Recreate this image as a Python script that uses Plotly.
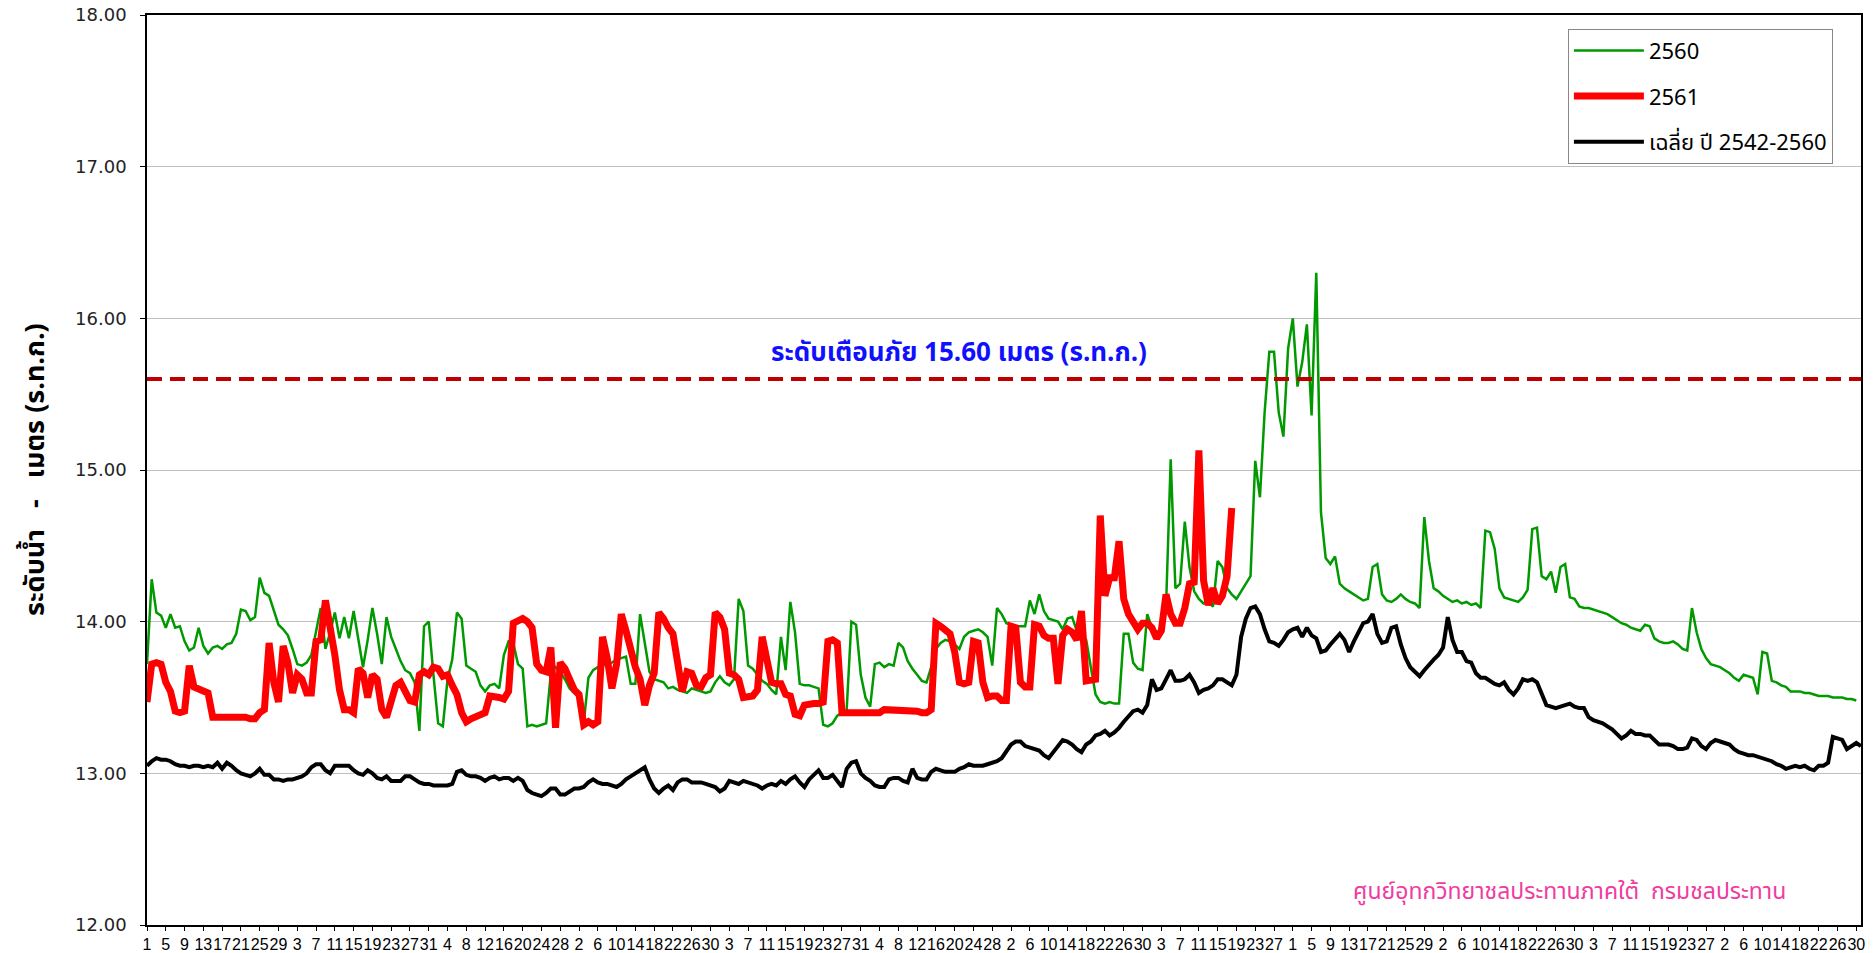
import plotly.graph_objects as go

# ---------------- data ----------------
month_days = [30, 31, 30, 31, 31, 30, 31, 30, 31, 31, 29, 31]  # Apr .. Mar (366-day layout)

level_2560 = [
    13.72, 14.28, 14.06, 14.04, 13.96, 14.05, 13.96, 13.97, 13.87, 13.81,
    13.83, 13.96, 13.84, 13.79, 13.83, 13.84, 13.82, 13.85, 13.86, 13.92,
    14.08, 14.07, 14.01, 14.03, 14.29, 14.19, 14.17, 14.08, 13.98, 13.95,
    13.91, 13.82, 13.72, 13.71, 13.73, 13.78, 13.93, 14.09, 13.82, 13.93,
    14.06, 13.89, 14.03, 13.89, 14.07, 13.88, 13.70, 13.88, 14.09, 13.92,
    13.72, 14.03, 13.90, 13.82, 13.74, 13.68, 13.66, 13.60, 13.28, 13.97,
    14.00, 13.65, 13.33, 13.31, 13.62, 13.75, 14.06, 14.02, 13.71, 13.69,
    13.67, 13.58, 13.54, 13.58, 13.59, 13.56, 13.78, 13.87, 13.86, 13.72,
    13.69, 13.31, 13.32, 13.31, 13.32, 13.33, 13.66, 13.70, 13.67, 13.62,
    13.56, 13.53, 13.50, 13.33, 13.63, 13.68, 13.70, 13.71, 13.72, 13.73,
    13.75, 13.76, 13.77, 13.59, 13.59, 14.05, 13.87, 13.67, 13.62, 13.61,
    13.60, 13.56, 13.57, 13.55, 13.54, 13.53, 13.56, 13.55, 13.54, 13.53,
    13.54, 13.60, 13.64, 13.60, 13.58, 13.62, 14.15, 14.07, 13.71, 13.69,
    13.65, 13.61, 13.59, 13.55, 13.52, 13.90, 13.68, 14.13, 13.93, 13.59,
    13.58, 13.58, 13.57, 13.56, 13.32, 13.31, 13.33, 13.38, 13.40, 13.42,
    14.00, 13.98, 13.65, 13.50, 13.44, 13.72, 13.73, 13.70, 13.72, 13.71,
    13.86, 13.83, 13.74, 13.69, 13.65, 13.61, 13.60, 13.70, 13.82, 13.86,
    13.88, 13.87, 13.85, 13.82, 13.90, 13.93, 13.94, 13.95, 13.93, 13.90,
    13.71, 14.09, 14.05, 13.99, 13.98, 13.97, 13.97, 13.97, 14.14, 14.05,
    14.18, 14.07, 14.02, 14.01, 14.00, 13.95, 14.02, 14.03, 13.94, 13.91,
    13.88, 13.70, 13.52, 13.47, 13.46, 13.47, 13.46, 13.46, 13.92, 13.92,
    13.73, 13.69, 13.68, 14.05, 13.96, 13.93, 13.95, 14.09, 15.07, 14.22,
    14.25, 14.66, 14.36, 14.20, 14.15, 14.12, 14.13, 14.10, 14.40, 14.36,
    14.22, 14.18, 14.15, 14.20, 14.25, 14.30, 15.06, 14.82, 15.38, 15.78,
    15.78, 15.38, 15.22, 15.80, 16.00, 15.55, 15.71, 15.96, 15.36, 16.30,
    14.72, 14.42, 14.38, 14.43, 14.25, 14.22, 14.20, 14.18, 14.16, 14.14,
    14.15, 14.36, 14.38, 14.18, 14.14, 14.13, 14.15, 14.18, 14.15, 14.13,
    14.12, 14.09, 14.69, 14.40, 14.22, 14.20, 14.17, 14.15, 14.13, 14.14,
    14.12, 14.13, 14.11, 14.12, 14.09, 14.60, 14.59, 14.48, 14.22, 14.16,
    14.15, 14.14, 14.13, 14.16, 14.21, 14.61, 14.62, 14.30, 14.28, 14.33,
    14.19, 14.36, 14.38, 14.16, 14.15, 14.10, 14.09, 14.09, 14.08, 14.07,
    14.06, 14.05, 14.03, 14.01, 13.99, 13.98, 13.96, 13.95, 13.94, 13.98,
    13.97, 13.89, 13.87, 13.86, 13.86, 13.87, 13.85, 13.82, 13.81, 14.09,
    13.93, 13.82, 13.76, 13.72, 13.71, 13.70, 13.68, 13.66, 13.63, 13.61,
    13.65, 13.64, 13.63, 13.52, 13.80, 13.79, 13.61, 13.60, 13.58, 13.57,
    13.54, 13.54, 13.54, 13.53, 13.53, 13.52, 13.51, 13.51, 13.51, 13.50,
    13.50, 13.50, 13.49, 13.49, 13.48,
]

level_2561 = [
    13.47, 13.72, 13.73, 13.72, 13.60, 13.54, 13.41, 13.40, 13.41, 13.71,
    13.57, 13.56, 13.55, 13.53, 13.37, 13.37, 13.37, 13.38, 13.38, 13.37,
    13.37, 13.37, 13.36, 13.36, 13.40, 13.42, 13.86, 13.60, 13.47, 13.84,
    13.73, 13.53, 13.65, 13.62, 13.53, 13.53, 13.87, 13.88, 14.14, 13.98,
    13.78, 13.55, 13.42, 13.42, 13.40, 13.69, 13.66, 13.50, 13.65, 13.62,
    13.42, 13.37, 13.47, 13.58, 13.60, 13.55, 13.48, 13.47, 13.65, 13.67,
    13.65, 13.70, 13.69, 13.64, 13.65, 13.58, 13.52, 13.40, 13.34, 13.36,
    13.37, 13.38, 13.40, 13.51, 13.51, 13.50, 13.49, 13.54, 13.99, 14.01,
    14.02, 14.00, 13.96, 13.72, 13.68, 13.67, 13.83, 13.30, 13.73, 13.69,
    13.61, 13.55, 13.52, 13.32, 13.34, 13.32, 13.34, 13.90, 13.76, 13.56,
    13.72, 14.05, 13.94, 13.80, 13.70, 13.62, 13.45, 13.58, 13.66, 14.06,
    14.02, 13.96, 13.92, 13.73, 13.54, 13.67, 13.66, 13.58, 13.57, 13.63,
    13.65, 14.06, 14.03, 13.95, 13.66, 13.65, 13.62, 13.50, 13.50, 13.51,
    13.55, 13.90, 13.75, 13.60, 13.59, 13.59, 13.52, 13.51, 13.39, 13.38,
    13.45, 13.46, 13.46, 13.46, 13.47, 13.87, 13.88, 13.86, 13.40, 13.40,
    13.40, 13.40, 13.40, 13.39, 13.39, 13.39, 13.40, 13.42, 13.42, 13.41,
    13.41, 13.41, 13.41, 13.41, 13.41, 13.40, 13.40, 13.42, 13.99, 13.97,
    13.94, 13.92, 13.80, 13.60, 13.59, 13.60, 13.87, 13.86, 13.60, 13.50,
    13.51, 13.51, 13.48, 13.48, 13.97, 13.96, 13.60, 13.57, 13.57, 13.98,
    13.97, 13.91, 13.89, 13.89, 13.59, 13.91, 13.95, 13.93, 13.88, 14.07,
    13.61, 13.61, 13.62, 14.70, 14.17, 14.29, 14.29, 14.53, 14.15, 14.05,
    14.00, 13.95, 13.99, 13.99, 13.96, 13.89, 13.94, 14.18, 14.05, 13.99,
    13.99, 14.09, 14.25, 14.26, 15.13, 14.27, 14.11, 14.22, 14.12, 14.17,
    14.30, 14.75,
]

level_avg = [
    13.05, 13.08, 13.10, 13.09, 13.09, 13.08, 13.06, 13.05, 13.05, 13.04,
    13.05, 13.05, 13.04, 13.05, 13.04, 13.07, 13.03, 13.07, 13.05, 13.02,
    13.00, 12.99, 12.98, 13.00, 13.03, 12.99, 12.99, 12.96, 12.96, 12.95,
    12.96, 12.96, 12.97, 12.98, 13.00, 13.04, 13.06, 13.06, 13.02, 13.00,
    13.05, 13.05, 13.05, 13.05, 13.02, 13.00, 12.99, 13.02, 13.00, 12.97,
    12.96, 12.98, 12.95, 12.95, 12.95, 12.98, 12.98, 12.96, 12.94, 12.93,
    12.93, 12.92, 12.92, 12.92, 12.92, 12.93, 13.01, 13.02, 12.99, 12.98,
    12.98, 12.97, 12.95, 12.97, 12.98, 12.96, 12.97, 12.97, 12.95, 12.97,
    12.95, 12.89, 12.87, 12.86, 12.85, 12.87, 12.90, 12.90, 12.86, 12.86,
    12.88, 12.90, 12.90, 12.91, 12.94, 12.96, 12.94, 12.93, 12.93, 12.92,
    12.91, 12.93, 12.96, 12.98, 13.00, 13.02, 13.04, 12.96, 12.90, 12.87,
    12.90, 12.92, 12.89, 12.94, 12.96, 12.96, 12.94, 12.94, 12.94, 12.93,
    12.92, 12.91, 12.88, 12.90, 12.95, 12.94, 12.93, 12.95, 12.94, 12.93,
    12.92, 12.90, 12.92, 12.93, 12.92, 12.95, 12.93, 12.96, 12.98, 12.94,
    12.91, 12.96, 12.99, 13.02, 12.97, 12.97, 12.99, 12.95, 12.91, 13.03,
    13.07, 13.08, 13.00, 12.97, 12.95, 12.92, 12.91, 12.91, 12.96, 12.97,
    12.97, 12.95, 12.94, 13.03, 12.97, 12.96, 12.96, 13.01, 13.03, 13.02,
    13.01, 13.01, 13.01, 13.03, 13.04, 13.06, 13.05, 13.05, 13.05, 13.06,
    13.07, 13.08, 13.10, 13.14, 13.19, 13.21, 13.21, 13.18, 13.17, 13.16,
    13.15, 13.12, 13.10, 13.14, 13.18, 13.22, 13.21, 13.19, 13.16, 13.14,
    13.19, 13.21, 13.25, 13.26, 13.28, 13.25, 13.27, 13.30, 13.34, 13.38,
    13.41, 13.42, 13.40, 13.45, 13.62, 13.55, 13.56, 13.62, 13.68, 13.61,
    13.61, 13.62, 13.65, 13.60, 13.53, 13.55, 13.56, 13.58, 13.62, 13.62,
    13.60, 13.58, 13.65, 13.90, 14.02, 14.09, 14.10, 14.05, 13.95, 13.87,
    13.86, 13.84, 13.88, 13.93, 13.95, 13.96, 13.90, 13.96, 13.91, 13.89,
    13.80, 13.81, 13.85, 13.89, 13.92, 13.88, 13.80, 13.87, 13.93, 13.99,
    14.00, 14.05, 13.92, 13.86, 13.87, 13.96, 13.97, 13.85, 13.76, 13.70,
    13.67, 13.64, 13.68, 13.72, 13.75, 13.78, 13.83, 14.03, 13.88, 13.80,
    13.80, 13.74, 13.73, 13.66, 13.63, 13.63, 13.61, 13.59, 13.58, 13.60,
    13.55, 13.52, 13.56, 13.62, 13.61, 13.62, 13.60, 13.52, 13.45, 13.44,
    13.43, 13.44, 13.45, 13.46, 13.44, 13.43, 13.43, 13.37, 13.35, 13.34,
    13.33, 13.31, 13.29, 13.26, 13.23, 13.25, 13.28, 13.26, 13.26, 13.25,
    13.25, 13.22, 13.19, 13.19, 13.19, 13.18, 13.16, 13.16, 13.17, 13.23,
    13.22, 13.18, 13.16, 13.20, 13.22, 13.21, 13.20, 13.19, 13.16, 13.14,
    13.13, 13.12, 13.12, 13.11, 13.10, 13.09, 13.08, 13.06, 13.05, 13.03,
    13.04, 13.05, 13.04, 13.05, 13.03, 13.02, 13.05, 13.05, 13.07, 13.24,
    13.23, 13.22, 13.16, 13.18, 13.20, 13.18,
]

warning_level = 15.60
series_names = ["2560", "2561", "เฉลี่ย ปี 2542-2560"]
warning_text = "ระดับเตือนภัย 15.60 เมตร (ร.ท.ก.)"
yaxis_title = "ระดับน้ำ   -   เมตร (ร.ท.ก.)"
credit_text = "ศูนย์อุทกวิทยาชลประทานภาคใต้  กรมชลประทาน"

# ---------------- derived axis labels ----------------
day_of_month = [d for m in month_days for d in range(1, m + 1)]
n_days = len(day_of_month)
tick_vals = list(range(0, n_days, 4))
tick_text = [str(day_of_month[i]) for i in tick_vals]

THAI = "Tahoma, 'Noto Sans Thai', 'Noto Sans', 'DejaVu Sans', sans-serif"

fig = go.Figure()
fig.add_trace(go.Scatter(
    x=list(range(len(level_2560))), y=level_2560, mode="lines", name=series_names[0],
    line=dict(color="#009900", width=2.5), legendgroup="a"))
fig.add_trace(go.Scatter(
    x=list(range(len(level_2561))), y=level_2561, mode="lines", name=series_names[1],
    line=dict(color="#FF0000", width=7), legendgroup="b"))
fig.add_trace(go.Scatter(
    x=list(range(len(level_avg))), y=level_avg, mode="lines", name=series_names[2],
    line=dict(color="#000000", width=4), legendgroup="c"))

fig.add_shape(type="line", xref="paper", x0=0, x1=1, yref="y", y0=warning_level, y1=warning_level,
              line=dict(color="#C00000", width=4, dash="15px,8px"), layer="above")

fig.add_annotation(x=173, y=15.77, xref="x", yref="y", text="<b>" + warning_text + "</b>",
                   showarrow=False, font=dict(family=THAI, size=26, color="#1010FF"))
fig.add_annotation(x=303, y=12.22, xref="x", yref="y", text=credit_text,
                   showarrow=False, font=dict(family=THAI, size=23, color="#F03CA0"))
fig.add_annotation(x=-0.0653, y=0.5, xref="paper", yref="paper", text="<b>" + yaxis_title + "</b>",
                   textangle=-90, showarrow=False, xanchor="center", yanchor="middle",
                   font=dict(family=THAI, size=27, color="#000000"))

fig.update_layout(
    width=1876, height=953,
    margin=dict(l=147, r=15, t=15, b=28),
    paper_bgcolor="white", plot_bgcolor="white",
    showlegend=True,
    legend=dict(x=0.829, y=0.985, xanchor="left", yanchor="top",
                bgcolor="white", bordercolor="#888888", borderwidth=1,
                font=dict(family=THAI, size=22, color="#000000"),
                tracegroupgap=14, itemwidth=70),
    xaxis=dict(range=[0, n_days - 1], tickmode="array", tickvals=tick_vals, ticktext=tick_text,
               tickangle=0, showgrid=False, zeroline=False, automargin=False,
               showline=True, linecolor="#000000", linewidth=1.5, mirror=True,
               ticks="outside", ticklen=4, tickcolor="#000000",
               tickfont=dict(family="'Liberation Sans', Arial, sans-serif", size=16, color="#000000")),
    yaxis=dict(range=[12, 18], dtick=1, tick0=12, tickformat=".2f", automargin=False,
               showgrid=True, gridcolor="#BFBFBF", gridwidth=1, zeroline=False,
               showline=True, linecolor="#000000", linewidth=1.5, mirror=True,
               ticks="outside", ticklen=5, tickcolor="#000000", ticklabelstandoff=10,
               tickfont=dict(family="'DejaVu Sans', Verdana, sans-serif", size=18, color="#222222")),
)

fig.write_html("out.html", config={"displayModeBar": False},
               post_script="document.body.style.margin='0';document.body.style.overflow='hidden';")
